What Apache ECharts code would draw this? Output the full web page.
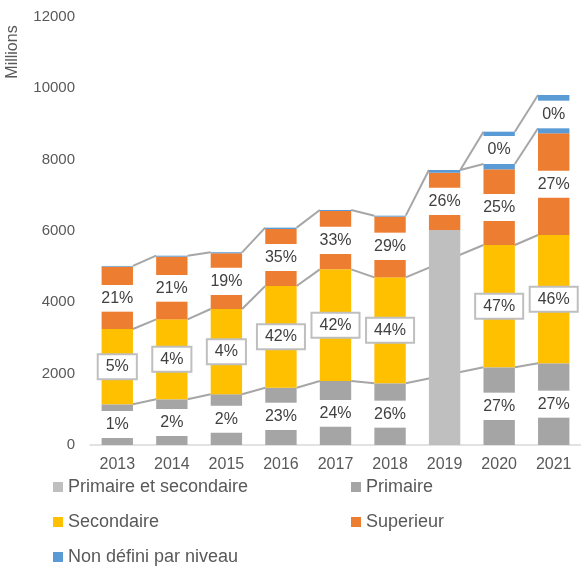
<!DOCTYPE html>
<html lang="fr">
<head>
<meta charset="utf-8">
<title>Répartition par niveau</title>
<script src="https://cdn.jsdelivr.net/npm/echarts@6/dist/echarts.min.js"></script>
<style>
  html, body { margin: 0; padding: 0; background: #fff; }
  #chart { width: 581px; height: 566px; }
</style>
</head>
<body>
<div id="chart"></div>
<script>
const FONT = '"Liberation Sans", Arial, sans-serif';
const TEXT = '#595959';
const LABEL = '#404040';

const years = ['2013', '2014', '2015', '2016', '2017', '2018', '2019', '2020', '2021'];

// Segments empilés (millions), de bas en haut ; '-' = pas de segment cette année
const primaireBas = [196, 252, 346, 421, 514, 486, '-', 701, 766];
const ecartPrimaire = [757, 757, 757, 765, 748, 757, '-', 766, 757];
const primaireHaut = [187, 271, 318, 421, 532, 486, '-', 711, 767];
const primaireSecondaire = ['-', '-', '-', '-', '-', '-', 6028, '-', '-'];
const secondaire = [2112, 2243, 2392, 2851, 3131, 2972, '-', 3429, 3598];
const superieurBas = [486, 495, 392, 420, 430, 486, 421, 673, 1046];
const ecartSuperieur = [748, 748, 766, 758, 766, 766, 766, 757, 757];
const superieurHaut = [514, 514, 403, 420, 440, 449, 420, 692, 1048];
const nonDefiniBas = [20, 28, 28, 38, 28, 28, 75, 150, 140];
const ecartNonDefini = ['-', '-', '-', '-', '-', '-', '-', 785, 775];
const nonDefiniHaut = ['-', '-', '-', '-', '-', '-', '-', 121, 159];

// Étiquettes de parts
const partsPrimaire = ['1%', '2%', '2%', '23%', '24%', '26%', '', '27%', '27%'];
const partsSecondaire = ['5%', '4%', '4%', '42%', '42%', '44%', '', '47%', '46%'];
const partsSuperieur = ['21%', '21%', '19%', '35%', '33%', '29%', '26%', '25%', '27%'];
const partsNonDefini = ['', '', '', '', '', '', '', '0%', '0%'];

const yMin = 0, yMax = 12000, yStep = 2000;

const stackOrder = [primaireBas, ecartPrimaire, primaireHaut, primaireSecondaire, secondaire,
    superieurBas, ecartSuperieur, superieurHaut, nonDefiniBas, ecartNonDefini, nonDefiniHaut];

const BAR_FRACTION = 0.575;
const HALF = BAR_FRACTION / 2;

// cumul jusqu'au tableau `upTo` (inclus) pour l'année i
const topOf = (upTo, i) => {
    const last = stackOrder.indexOf(upTo);
    return stackOrder.slice(0, last + 1).reduce((s, arr) => s + (typeof arr[i] === 'number' ? arr[i] : 0), 0);
};

// lignes de liaison coin à coin entre barres successives
const linkSegments = (upTo, idx) => idx.slice(1).map((b, k) => {
    const a = idx[k];
    return { coords: [[a + HALF, topOf(upTo, a)], [b - HALF, topOf(upTo, b)]] };
});

const noYear2019 = [0, 1, 2, 3, 4, 5, 7, 8];
const allYears = years.map((_, i) => i);
const segments = [
    ...linkSegments(primaireHaut, noYear2019),
    ...linkSegments(secondaire, noYear2019),
    ...linkSegments(nonDefiniBas, allYears),
    ...linkSegments(nonDefiniHaut, [6, 7, 8])
];

const plainLabel = parts => ({
    show: true,
    position: 'inside',
    color: LABEL,
    fontSize: 16,
    fontFamily: FONT,
    formatter: p => parts[p.dataIndex]
});

const bar = (name, data, color, extra = {}) => ({
    type: 'bar',
    name,
    stack: 'total',
    data,
    barWidth: (BAR_FRACTION * 100) + '%',
    itemStyle: { color },
    emphasis: { disabled: true },
    silent: true,
    z: 3,
    ...extra
});

const gap = (name, data, parts) => bar(name, data, 'rgba(0,0,0,0)', { label: plainLabel(parts) });

const legendItems = [
    { name: 'Primaire et secondaire', left: 53, top: 478 },
    { name: 'Primaire', left: 351, top: 478 },
    { name: 'Secondaire', left: 53, top: 513 },
    { name: 'Superieur', left: 351, top: 513 },
    { name: 'Non défini par niveau', left: 53, top: 548 }
];

const chart = echarts.init(document.getElementById('chart'));
chart.setOption({
    animation: false,
    textStyle: { fontFamily: FONT },
    grid: { left: 90, top: 17, width: 495, height: 428 },
    legend: legendItems.map(it => ({
        data: [it.name],
        left: it.left,
        top: it.top,
        padding: 0,
        icon: 'rect',
        itemWidth: 10,
        itemHeight: 10,
        selectedMode: false,
        textStyle: { color: TEXT, fontSize: 18, fontFamily: FONT }
    })),
    graphic: [{
        type: 'text',
        x: 13,
        y: 52,
        rotation: Math.PI / 2,
        style: { text: 'Millions', fontSize: 16, fontFamily: FONT, fill: TEXT, align: 'center', verticalAlign: 'middle' }
    }],
    xAxis: [{
        type: 'category',
        data: years,
        axisLine: { lineStyle: { color: '#d9d9d9', width: 1.5 } },
        axisTick: { show: false },
        axisLabel: { color: TEXT, fontSize: 16, margin: 12 }
    }, {
        type: 'value',
        min: -0.5,
        max: years.length - 0.5,
        show: false
    }],
    yAxis: {
        type: 'value',
        min: yMin,
        max: yMax,
        interval: yStep,
        axisLine: { show: false },
        axisTick: { show: false },
        splitLine: { show: false },
        axisLabel: { color: TEXT, fontSize: 15, margin: 15, formatter: v => String(v) }
    },
    series: [
        bar('Primaire', primaireBas, '#a5a5a5'),
        gap('ecartPrimaire', ecartPrimaire, partsPrimaire),
        bar('Primaire', primaireHaut, '#a5a5a5'),
        bar('Primaire et secondaire', primaireSecondaire, '#bfbfbf'),
        bar('Secondaire', secondaire, '#ffc000', {
            label: {
                ...plainLabel(partsSecondaire),
                backgroundColor: '#fff',
                borderColor: '#bfbfbf',
                borderWidth: 2,
                padding: [4, 7, 3, 7]
            }
        }),
        bar('Superieur', superieurBas, '#ed7d31'),
        gap('ecartSuperieur', ecartSuperieur, partsSuperieur),
        bar('Superieur', superieurHaut, '#ed7d31'),
        bar('Non défini par niveau', nonDefiniBas, '#5b9bd5'),
        gap('ecartNonDefini', ecartNonDefini, partsNonDefini),
        bar('Non défini par niveau', nonDefiniHaut, '#5b9bd5'),
        {
            type: 'lines',
            coordinateSystem: 'cartesian2d',
            xAxisIndex: 1,
            yAxisIndex: 0,
            silent: true,
            z: 1,
            lineStyle: { color: '#a6a6a6', width: 2, opacity: 1 },
            data: segments
        }
    ]
});
</script>
</body>
</html>
